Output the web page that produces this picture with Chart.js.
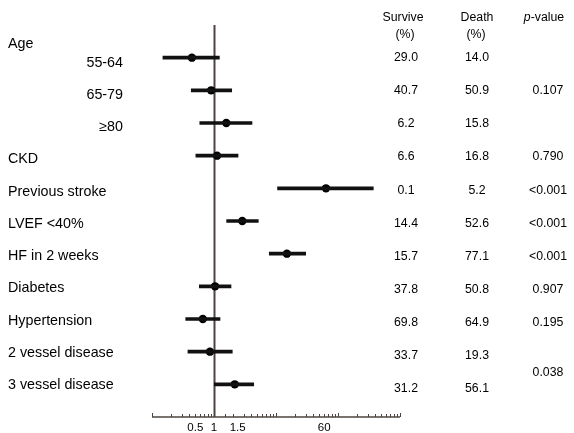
<!DOCTYPE html>
<html>
<head>
<meta charset="utf-8">
<script src="https://cdn.jsdelivr.net/npm/chart.js@4/dist/chart.umd.min.js"></script>
<style>
html,body{margin:0;padding:0;background:#fff;}
#wrap{width:574px;height:433px;}
</style>
</head>
<body>
<div id="wrap"><canvas id="c" width="574" height="433"></canvas></div>
<script>
// ---------- data ----------
const groupTitle = 'Age';
const labels = ['55-64','65-79','\u226580','CKD','Previous stroke','LVEF <40%','HF in 2 weeks','Diabetes','Hypertension','2 vessel disease','3 vessel disease'];
const subgroupCount = 3; // first rows belong to "Age"
const oddsRatio = [0.44, 0.90, 1.58, 1.12, 64, 2.86, 15.0, 1.04, 0.66, 0.86, 2.16];
const ciLow     = [0.15, 0.43, 0.59, 0.51, 10.6, 1.60, 7.8, 0.58, 0.35, 0.38, 1.01];
const ciHigh    = [1.22, 1.93, 4.10, 2.44, 371, 5.18, 30.1, 1.88, 1.25, 1.97, 4.37];
const survive   = [29.0, 40.7, 6.2, 6.6, 0.1, 14.4, 15.7, 37.8, 69.8, 33.7, 31.2];
const death     = [14.0, 50.9, 15.8, 16.8, 5.2, 52.6, 77.1, 50.8, 64.9, 19.3, 56.1];
const pValues   = ['0.107','0.790','<0.001','<0.001','<0.001','0.907','0.195','0.038'];
const pRows     = [1, 3, 4, 5, 6, 7, 8, 9.5];
const tickLabels = [0.5, 1, 1.5, 60];

// axis tick marks (log decades 0.1 .. 1000)
const tickValues = [];
for (let e = -1; e <= 2; e++) {
  for (let k = 1; k <= 9; k++) tickValues.push(+(k * Math.pow(10, e)).toFixed(3));
}
tickValues.push(1000);
tickValues.push(1.5);
tickValues.sort((a,b)=>a-b);

const FONT = '"Liberation Sans", Arial, Helvetica, sans-serif';
const LINE_COL = '#111';
const AXIS_COL = '#4d4441';

const overlay = {
  id: 'overlay',
  beforeDatasetsDraw(chart) {
    const {ctx, chartArea, scales} = chart;
    const x1 = Math.round(scales.x.getPixelForValue(1)) + 0.5;
    ctx.save();
    ctx.strokeStyle = AXIS_COL;
    ctx.lineWidth = 2;
    ctx.beginPath();
    ctx.moveTo(x1, chartArea.top);
    ctx.lineTo(x1, chartArea.bottom);
    ctx.stroke();
    // axis line
    ctx.lineWidth = 1.5;
    ctx.beginPath();
    ctx.moveTo(chartArea.left, chartArea.bottom);
    ctx.lineTo(chartArea.right, chartArea.bottom);
    ctx.stroke();
    // tick marks (upward)
    ctx.lineWidth = 1;
    tickValues.forEach(v => {
      const px = Math.round(scales.x.getPixelForValue(v)) + 0.5;
      const major = Math.abs(Math.log10(v) - Math.round(Math.log10(v))) < 1e-9;
      const len = major ? 4 : 3;
      ctx.beginPath();
      ctx.moveTo(px, chartArea.bottom);
      ctx.lineTo(px, chartArea.bottom - len);
      ctx.stroke();
    });
    ctx.restore();
  },
  afterDraw(chart) {
    const {ctx, scales} = chart;
    const y = scales.y;
    ctx.save();
    ctx.fillStyle = '#000';
    ctx.textBaseline = 'middle';
    // left labels
    ctx.font = '14.3px ' + FONT;
    ctx.textAlign = 'left';
    ctx.fillText(groupTitle, 8, 44);
    labels.forEach((l, i) => {
      const py = y.getPixelForValue(i) + 5 - 0.4 * i;
      if (i < subgroupCount) {
        ctx.textAlign = 'right';
        ctx.fillText(l, 123, py);
      } else {
        ctx.textAlign = 'left';
        ctx.fillText(l, 8, py);
      }
    });
    // headers
    ctx.font = '12.3px ' + FONT;
    ctx.textAlign = 'center';
    ctx.fillText('Survive', 403, 18);
    ctx.fillText('(%)', 405, 35);
    ctx.fillText('Death', 477, 18);
    ctx.fillText('(%)', 476, 35);
    // p-value header: italic p
    ctx.textAlign = 'left';
    ctx.font = 'italic 12.3px ' + FONT;
    const wp = ctx.measureText('p').width;
    ctx.font = '12.3px ' + FONT;
    const wv = ctx.measureText('-value').width;
    const startX = 544 - (wp + wv) / 2;
    ctx.font = 'italic 12.3px ' + FONT;
    ctx.fillText('p', startX, 18);
    ctx.font = '12.3px ' + FONT;
    ctx.fillText('-value', startX + wp, 18);
    // values
    ctx.textAlign = 'center';
    survive.forEach((v, i) => {
      const py = y.getPixelForValue(i) + 0.45 * i;
      ctx.fillText(v.toFixed(1), 406, py);
      ctx.fillText(death[i].toFixed(1), 477, py);
    });
    pValues.forEach((p, k) => {
      const py = y.getPixelForValue(pRows[k]) + 0.45 * pRows[k];
      ctx.fillText(p, 548, py);
    });
    ctx.restore();
  }
};

new Chart(document.getElementById('c').getContext('2d'), {
  type: 'bar',
  data: {
    datasets: [
      {
        type: 'bar',
        indexAxis: 'y',
        data: labels.map((l, i) => ({ y: i, x: [ciLow[i], ciHigh[i]] })),
        backgroundColor: LINE_COL,
        borderWidth: 0,
        barThickness: 3,
        borderSkipped: false
      },
      {
        type: 'scatter',
        data: labels.map((l, i) => ({ x: oddsRatio[i], y: i })),
        pointRadius: 4.2,
        pointBackgroundColor: '#000',
        pointBorderWidth: 0,
        showLine: false
      }
    ]
  },
  options: {
    responsive: false,
    animation: false,
    devicePixelRatio: 1,
    layout: { padding: { left: 152, right: 174, top: 25, bottom: 0 } },
    plugins: { legend: { display: false }, tooltip: { enabled: false } },
    scales: {
      x: {
        type: 'logarithmic',
        min: 0.1,
        max: 1000,
        offset: false,
        grid: { display: false, drawTicks: false },
        border: { display: false },
        afterBuildTicks: s => { s.ticks = tickValues.map(v => ({ value: v })); },
        afterFit: s => { s.height = 16; },
        ticks: {
          autoSkip: false,
          maxRotation: 0,
          minRotation: 0,
          padding: 4,
          color: '#000',
          font: { size: 11.5, family: FONT },
          callback: (v) => {
            const r = +(+v).toFixed(3);
            if (!tickLabels.includes(r)) return '';
            // keep "1.5" from colliding with "1"
            return r === 1.5 ? '\u2007\u2007\u2007\u2007' + String(r) : String(r);
          }
        }
      },
      y: {
        type: 'linear',
        reverse: true,
        min: -1,
        max: 11,
        offset: false,
        grid: { offset: false },
        display: false
      }
    }
  },
  plugins: [overlay]
});
</script>
</body>
</html>
